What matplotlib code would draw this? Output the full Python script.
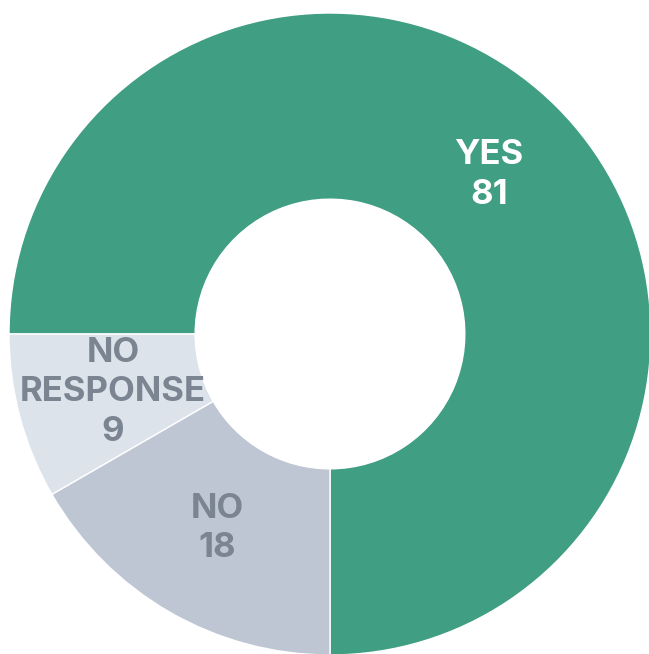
import matplotlib.pyplot as plt
import numpy as np

labels = ['YES', 'NO\nRESPONSE', 'NO']
values = [81, 9, 18]
colors = ['#409e82', '#dde3eb', '#bec5d3']
text_colors = ['white', '#7a8591', '#7a8591']

fig = plt.figure(figsize=(6.49, 6.54), dpi=100)
ax = fig.add_axes([0, 0, 1, 1])

wedges, _ = ax.pie(values, colors=colors, startangle=-90, counterclock=True,
                   radius=1.0, wedgeprops=dict(width=0.58, edgecolor='white', linewidth=1))

for w, lab, v, tc in zip(wedges, labels, values, text_colors):
    ang = np.deg2rad((w.theta1 + w.theta2) / 2)
    r = 0.70
    ax.text(r * np.cos(ang), r * np.sin(ang), f'{lab}\n{v}', ha='center', va='center',
            color=tc, fontsize=25, fontweight='bold', family='Inter', linespacing=1.3)

ax.set_xlim(-330 / 321, 319 / 321)
ax.set_ylim(-320 / 321, 334 / 321)
ax.set_aspect('auto')
ax.axis('off')

fig.savefig('out.png', dpi=100)
